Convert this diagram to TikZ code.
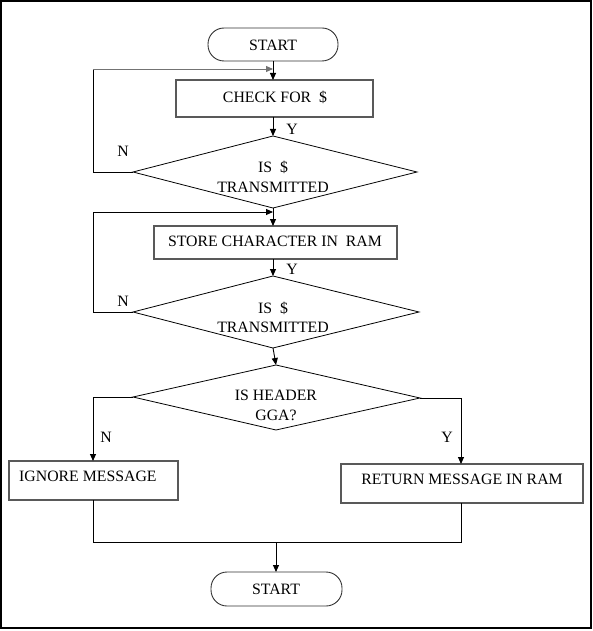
\documentclass[tikz,border=0pt]{standalone}
\usepackage{fontspec}
\setmainfont{Liberation Serif}
\usetikzlibrary{shapes.geometric,arrows.meta}
\begin{document}
\begin{tikzpicture}[x=1pt,y=-1pt,
  every node/.style={font=\fontsize{15.8}{18}\selectfont, inner sep=0pt},
  box/.style={draw=black!65, line width=1.1pt},
  term/.style={draw=black!80, line width=0.9pt, rounded corners=16pt},
  dia/.style={draw=black, line width=0.8pt},
  ln/.style={draw=black, line width=0.9pt},
  arr/.style={ln, -{Triangle[length=7pt,width=6pt]}},
  lbl/.style={font=\fontsize{15.8}{18}\selectfont}]
\useasboundingbox (0,0) rectangle (593,631);
\draw[line width=2pt] (1,1) rectangle (591,628);
% start
\draw[term] (208,28) rectangle (338,61);
\node (s1) at (273,45) {START};
\coordinate (s1b) at (273,61);
% check box
\draw[box] (176,80) rectangle (373,117);
\node (chk) at (275,97) {CHECK FOR \ \$};
\coordinate (chkt) at (273,80);
\coordinate (chkb) at (273,117);
% diamond 1
\draw[dia] (273,136) -- (417,172) -- (273,208) -- (133,172) -- cycle;
\coordinate (d1t) at (273,136);
\coordinate (d1l) at (133,172);
\coordinate (d1b) at (273,208);
\node at (273,167) {IS \ \$};
\node (d1) at (273,187) {TRANSMITTED};
% box 2
\draw[box] (154,226) rectangle (397,259);
\node (st) at (275,241) {STORE CHARACTER IN \ RAM};
\coordinate (stt) at (273,226);
\coordinate (stb) at (273,259);
% diamond 2
\draw[dia] (273,276) -- (419,312) -- (273,348) -- (133,312) -- cycle;
\coordinate (d2t) at (273,276);
\coordinate (d2l) at (133,312);
\coordinate (d2b) at (273,348);
\node at (273,308) {IS \ \$};
\node (d2) at (273,327) {TRANSMITTED};
% diamond 3
\draw[dia] (276,365) -- (420,398) -- (276,430) -- (133,397) -- cycle;
\coordinate (d3t) at (276,365);
\coordinate (d3l) at (133,397);
\coordinate (d3r) at (420,398);
\node (d3a) at (276,395) {IS HEADER};
\node (d3b) at (276,415) {GGA?};
% result boxes
\draw[box] (9,461) rectangle (178,500);
\node[anchor=west] (ign) at (19,476) {IGNORE MESSAGE};
\draw[box] (341,464) rectangle (583,503);
\node (ret) at (462,479) {RETURN MESSAGE IN RAM};
% end
\draw[term] (211,572) rectangle (342,606);
\node (s2) at (276,589) {START};
% connectors
\draw[arr] (s1b) -- (chkt);
\draw[arr] (chkb) -- (d1t);
\node[lbl] at (292,129) {Y};
\draw[ln] (d1l) -- (93,172) -- (93,69);
\draw[draw=black!55, line width=0.9pt, -{Triangle[length=7pt,width=6pt]}] (93,69) -- (273,69);
\node[lbl] at (123,151) {N};
\draw[arr] (d1b) -- (stt);
\draw[arr] (93,212) -- (273,212);
\draw[ln] (d2l) -- (93,312) -- (93,212);
\node[lbl] at (123,301) {N};
\draw[arr] (stb) -- (d2t);
\node[lbl] at (292,269) {Y};
\draw[arr] (d2b) -- (d3t);
\draw[arr] (d3l) -- (93,397) -- (93,461);
\node[lbl] at (106,437) {N};
\draw[arr] (d3r) -- (461,398) -- (461,464);
\node[lbl] at (447,437) {Y};
\draw[ln] (93,500) -- (93,542) -- (461,542) -- (461,503);
\draw[arr] (276,542) -- (276,572);
\end{tikzpicture}
\end{document}
